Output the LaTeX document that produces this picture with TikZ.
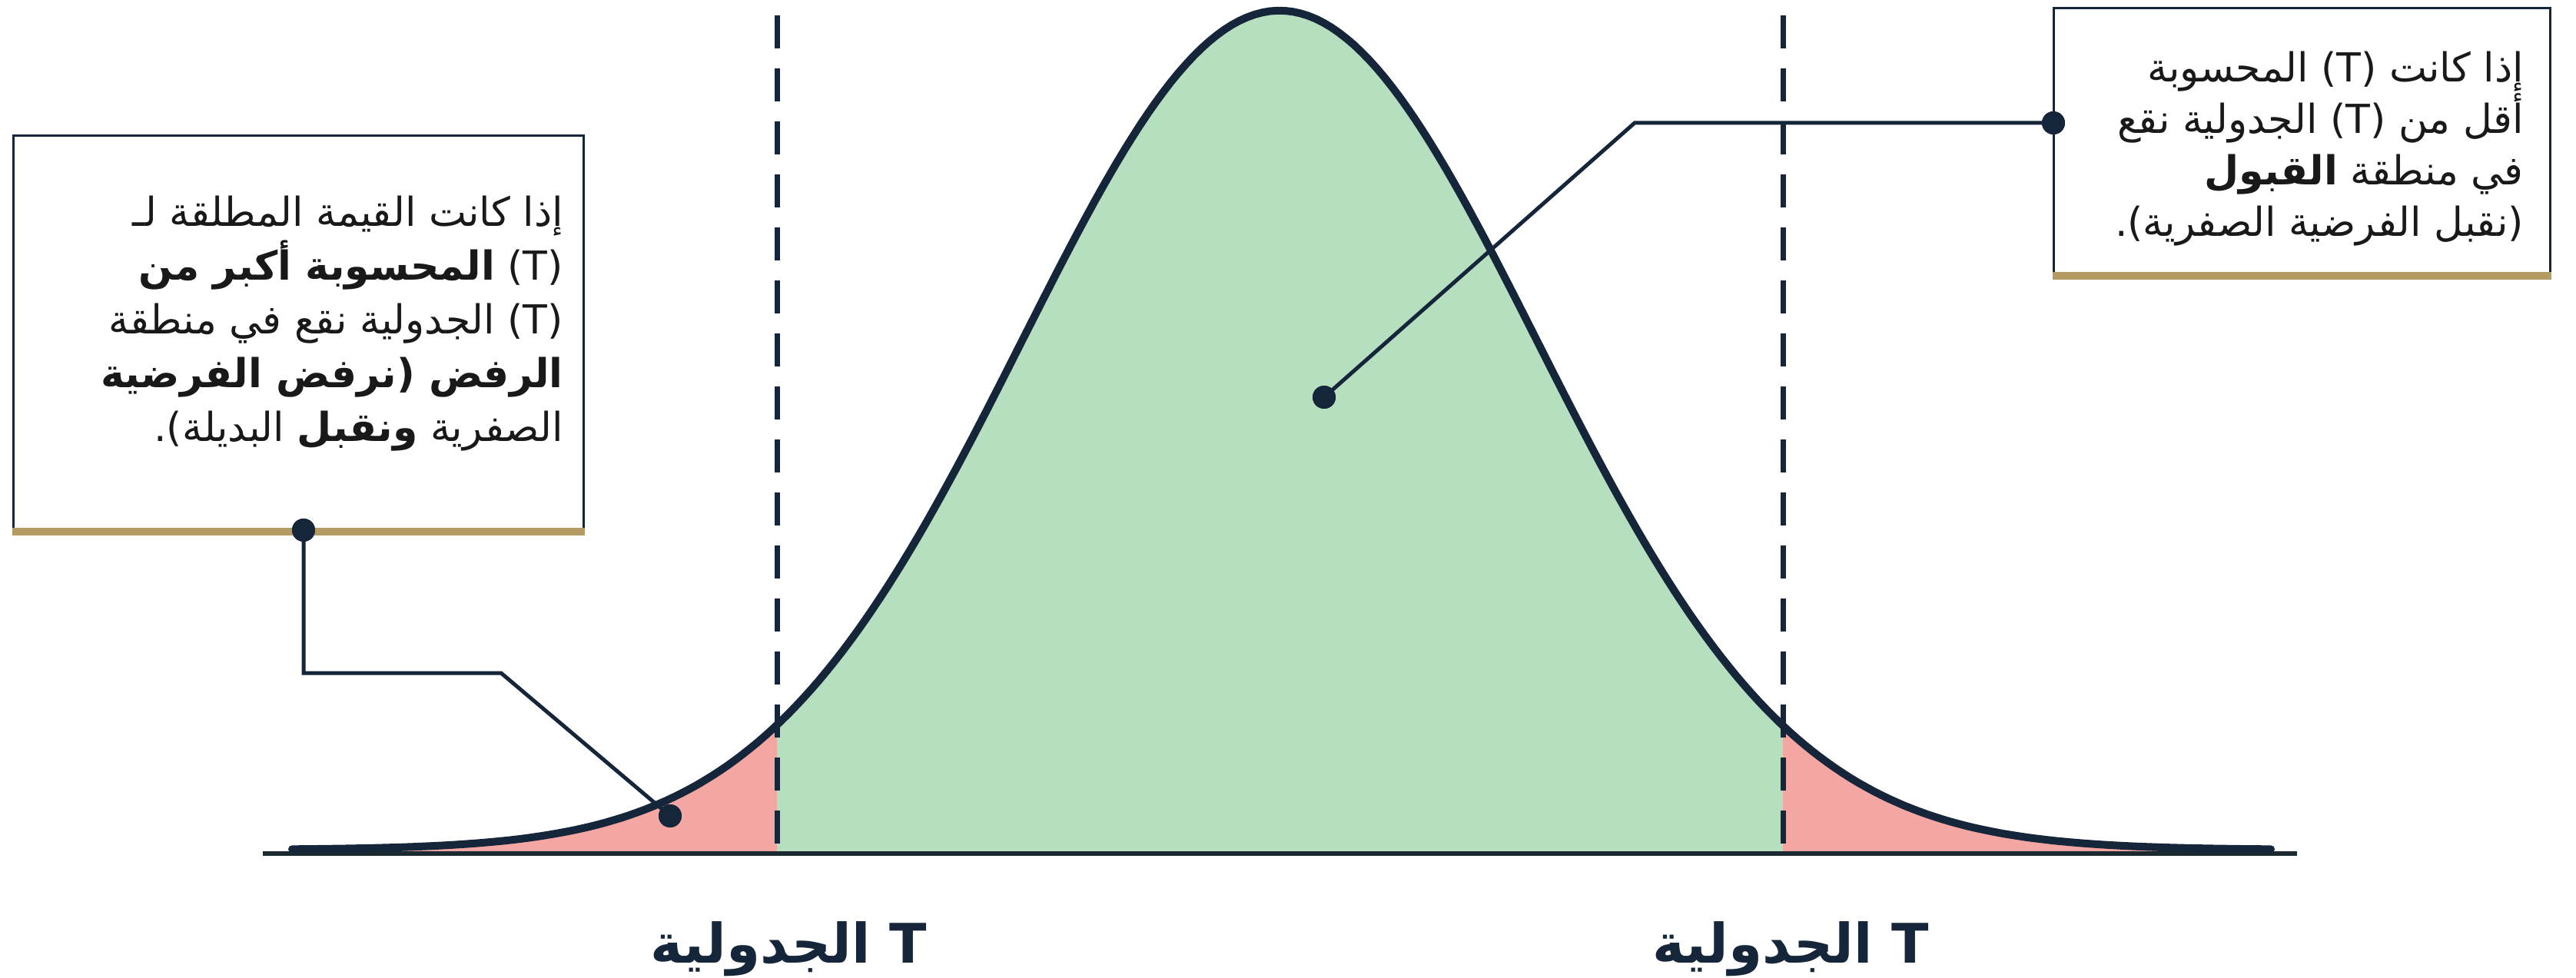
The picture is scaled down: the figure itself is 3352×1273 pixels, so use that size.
\documentclass[tikz,border=0pt]{standalone}
\usepackage{fontspec}
\TeXXeTstate=1
\newfontfamily\arabicfont[Script=Arabic]{DejaVu Sans}
\definecolor{navy}{HTML}{15263B}
\definecolor{gold}{HTML}{B39B62}
\definecolor{accgreen}{HTML}{B6DFBF}
\definecolor{rejpink}{HTML}{F4A7A2}
\definecolor{axisc}{HTML}{1A2A30}
\tikzset{
  curveline/.style={draw=navy, line width=10pt, line cap=round},
  axisline/.style={draw=axisc, line width=6pt},
  critline/.style={draw=navy, line width=7pt, dash pattern=on 43pt off 26pt},
  conn/.style={draw=navy, line width=5pt, line join=miter},
  dotnode/.style={circle, fill=navy, inner sep=0pt, minimum size=30pt},
  boxnode/.style={draw=navy, line width=3pt, fill=white, inner sep=0pt},
  goldline/.style={draw=gold, line width=10pt},
  boxtext/.style={inner sep=0pt, align=right, text=black!90},
  critlabel/.style={inner sep=0pt, text=navy, font=\arabicfont\bfseries\fontsize{71}{80}\selectfont}
}
\begin{document}
\begin{tikzpicture}[x=1pt,y=-1pt]
\useasboundingbox (0,0) rectangle (3352,1273);
\fill[white] (0,0) rectangle (3352,1273);
% fills
\fill[rejpink] (380,1109) -- plot[domain=380:1011,samples=80] (\x,{1109-1095*exp(-((\x-1665)/335)^2/2)}) -- (1011,1109) -- cycle;
\fill[accgreen] (1011,1109) -- plot[domain=1011:2320,samples=160] (\x,{1109-1095*exp(-((\x-1665)/335)^2/2)}) -- (2320,1109) -- cycle;
\fill[rejpink] (2320,1109) -- plot[domain=2320:2955,samples=80] (\x,{1109-1095*exp(-((\x-1665)/335)^2/2)}) -- (2955,1109) -- cycle;
% critical lines
\coordinate (c1t) at (1011,20);
\coordinate (c1b) at (1011,1109);
\coordinate (c2t) at (2320,20);
\coordinate (c2b) at (2320,1109);
\draw[critline] (c1t) -- (c1b);
\draw[critline] (c2t) -- (c2b);
% axis
\coordinate (axl) at (342,1111);
\coordinate (axr) at (2989,1111);
\draw[axisline] (axl) -- (axr);
% curve
\draw[curveline] plot[domain=380:2955,samples=260] (\x,{1106-1092*exp(-((\x-1665)/335)^2/2)});
% left box
\node[boxnode, minimum width=742pt, minimum height=513pt] (lbox) at (388,433.5) {};
\draw[goldline] (lbox.south west) -- (lbox.south east);
\node[boxtext, anchor=east, font=\arabicfont\fontsize{52}{70}\selectfont] (ltext) at (733,421) {%
\beginR إذا كانت القيمة المطلقة لـ\endR\\
\beginR\beginL(T)\endL{} \textbf{المحسوبة أكبر من}\endR\\
\beginR\beginL(T)\endL{} الجدولية نقع في منطقة\endR\\
\beginR\textbf{الرفض (نرفض الفرضية}\endR\\
\beginR الصفرية \textbf{ونقبل} البديلة).\endR};
% right box
\node[boxnode, minimum width=646pt, minimum height=346pt] (rbox) at (2995,184) {};
\draw[goldline] (rbox.south west) -- (rbox.south east);
\node[boxtext, anchor=east, font=\arabicfont\fontsize{52}{67}\selectfont] (rtext) at (3284,194) {%
\beginR إذا كانت \beginL(T)\endL{} المحسوبة\endR\\
\beginR أقل من \beginL(T)\endL{} الجدولية نقع\endR\\
\beginR في منطقة \textbf{القبول}\endR\\
\beginR(نقبل الفرضية الصفرية).\endR};
% connectors
\coordinate (lbend) at (652,876);
\coordinate (rbend) at (2127,160);
\node[dotnode] (ldot1) at (395,690) {};
\node[dotnode] (ldot2) at (872,1062) {};
\node[dotnode] (rdot1) at (2672,160) {};
\node[dotnode] (rdot2) at (1723,517) {};
\draw[conn] (ldot1.center) |- (lbend) -- (ldot2.center);
\draw[conn] (rdot1.center) -- (rbend) -- (rdot2.center);
\node[dotnode] at (ldot1) {};
\node[dotnode] at (ldot2) {};
\node[dotnode] at (rdot1) {};
\node[dotnode] at (rdot2) {};
% labels
\node[critlabel] (lab1) at (1026,1235) {\beginR\beginL T\endL{} الجدولية\endR};
\node[critlabel] (lab2) at (2330,1235) {\beginR\beginL T\endL{} الجدولية\endR};
\end{tikzpicture}
\end{document}
